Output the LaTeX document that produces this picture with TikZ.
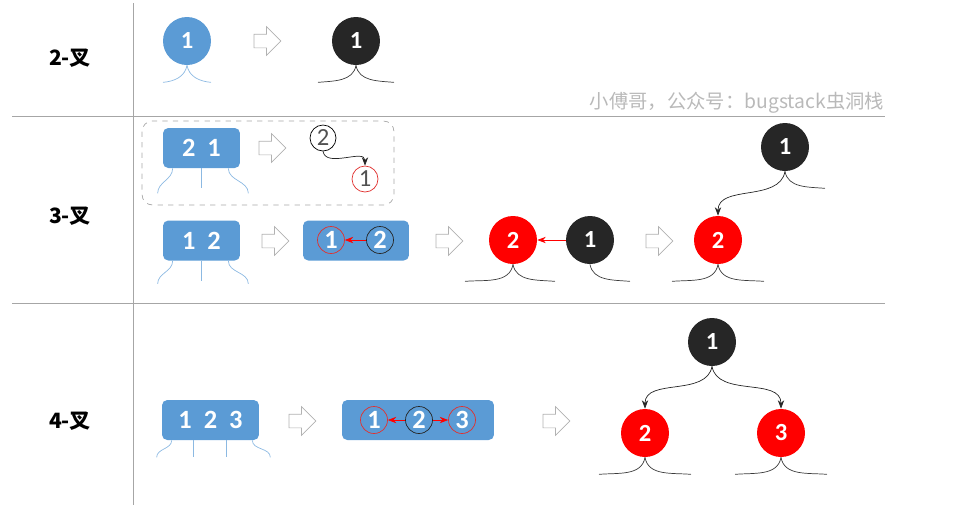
\documentclass[tikz,border=0pt]{standalone}
\usepackage{fontspec}
\setmainfont{Carlito}
\newfontfamily\cjk{Noto Sans CJK SC}
\usetikzlibrary{
  arrows.meta,
  shapes.arrows,
  positioning
}
\definecolor{nodeblue}{HTML}{5B9BD5}
\definecolor{nodeblack}{HTML}{262626}
\definecolor{nodered}{HTML}{FF0000}
\definecolor{ringred}{HTML}{E0312F}
\tikzset{>=Stealth}
\tikzset{
  rbnode/.style={circle, minimum size=0.96cm, inner sep=0pt, text=white,
    font=\fontsize{14}{14}\selectfont\bfseries},
  blacknode/.style={rbnode, fill=nodeblack},
  rednode/.style={rbnode, fill=nodered},
  bluenode/.style={rbnode, fill=nodeblue},
  keybox/.style={rectangle, rounded corners=3pt, fill=nodeblue, text=white,
    inner sep=0pt, minimum height=0.8cm, font=\fontsize{15}{15}\selectfont\bfseries},
  keyring/.style={circle, draw, minimum size=0.54cm, inner sep=0pt, text=white,
    font=\fontsize{15}{15}\selectfont\bfseries},
  plainring/.style={circle, draw, minimum size=0.52cm, inner sep=0pt,
    text=nodeblack!80, font=\fontsize{14}{14}\selectfont},
  hollow/.style={single arrow, draw=gray!60, fill=white, inner sep=0.13cm,
    minimum height=0.54cm, single arrow head extend=0.15cm},
  rowlabel/.style={font=\cjk\fontsize{12}{14}\selectfont\bfseries},
  grid/.style={draw=gray!70, thin},
  leg/.style={draw=nodeblack!90, thin},
  blueleg/.style={draw=nodeblue!70, thin}
}
\newcommand{\twoleaves}[3]{% node, style, spread
  \draw[#2] (#1.south) to[out=-100,in=5] ++(-#3,17);
  \draw[#2] (#1.south) to[out=-80,in=175] ++(#3,17);}

\begin{document}
\begin{tikzpicture}[x=0.02cm, y=-0.02cm]
	\useasboundingbox (0,0) rectangle (957,505);
	% table
	\draw[grid] (133,3) -- (133,505);
	\draw[grid] (12,116) -- (885,116);
	\draw[grid] (12,303) -- (885,303);
	\node[rowlabel] (l2) at (70,58) {2-叉};
	\node[rowlabel] (l3) at (70,216) {3-叉};
	\node[rowlabel] (l4) at (70,421) {4-叉};
	\node[font=\cjk\fontsize{11}{11}\selectfont, text=gray!55] (mark) at (737,103) {小傅哥，公众号：bugstack虫洞栈};

	% 2-node
	\node[bluenode] (a1) at (187,41) {1};
	\twoleaves{a1}{blueleg}{24}
	\node[hollow] (h1) at (264,41) {};
	\node[blacknode] (b1) at (356,41) {1};
	\twoleaves{b1}{leg}{38}

	% 3-node, case 2 1
	\draw[gray!70, dashed, rounded corners=6pt] (142,121) rectangle (394,205);
	\node[keybox, minimum width=1.54cm] (k21) at (201.5,148) {2\hspace{0.24cm}1};
	\draw[blueleg] ([xshift=0.2cm]k21.south west) to[out=-90,in=90] ++(-15,25);
	\draw[blueleg] (k21.south) -- ++(0,20);
	\draw[blueleg] ([xshift=-0.24cm]k21.south east) to[out=-90,in=90] ++(20,25);
	\node[hollow] (h2) at (269,148) {};
	\node[plainring] (p2) at (323,138) {2};
	\node[plainring, draw=ringred] (p1) at (365,179) {1};
	\draw[->, nodeblack] (p2.south) to[out=-80,in=90] (p1.north);

	% 3-node, case 1 2
	\node[keybox, minimum width=1.54cm] (k12) at (201.5,240.5) {1\hspace{0.24cm}2};
	\draw[blueleg] ([xshift=0.2cm]k12.south west) to[out=-90,in=90] ++(-15,23);
	\draw[blueleg] (k12.south) -- ++(0,20);
	\draw[blueleg] ([xshift=-0.24cm]k12.south east) to[out=-90,in=90] ++(20,23);
	\node[hollow] (h3) at (272,241) {};
	\node[keybox, minimum width=2.12cm] (w12) at (356,240.5) {};
	\node[keyring, draw=ringred] (w1) at (331,240) {1};
	\node[keyring, draw=nodeblack] (w2) at (380,240) {2};
	\draw[->, nodered] (w2) -- (w1);
	\node[hollow] (h4) at (446,241) {};
	\node[rednode] (c2) at (513,240) {2};
	\node[blacknode] (c1) at (590,240) {1};
	\draw[->, nodered] (c1) -- (c2);
	\draw[leg] (c2.south) to[out=-100,in=5] ++(-48,17);
	\draw[leg] (c2.south) to[out=-80,in=175] ++(42,17);
	\draw[leg] (c1.south) to[out=-80,in=175] ++(40,17);
	\node[hollow] (h5) at (656,241) {};
	\node[rednode] (d2) at (718,240) {2};
	\node[blacknode] (d1) at (785,147) {1};
	\twoleaves{d2}{leg}{46}
	\draw[leg] (d1.south) to[out=-80,in=175] ++(40,17);
	\draw[->, nodeblack] (d1.south) to[out=-100,in=90] (d2.north);

	% 4-node
	\node[keybox, minimum width=1.94cm] (k123) at (210.5,420) {1\hspace{0.24cm}2\hspace{0.24cm}3};
	\draw[blueleg] ([xshift=0.2cm]k123.south west) to[out=-90,in=90] ++(-15,17);
	\draw[blueleg] ([xshift=0.64cm]k123.south west) -- ++(0,17);
	\draw[blueleg] ([xshift=-0.66cm]k123.south east) -- ++(0,17);
	\draw[blueleg] ([xshift=-0.14cm]k123.south east) to[out=-90,in=90] ++(18,17);
	\node[hollow] (h6) at (299,421) {};
	\node[keybox, minimum width=3.04cm] (w123) at (418,420) {};
	\node[keyring, draw=ringred] (v1) at (374,420) {1};
	\node[keyring, draw=nodeblack] (v2) at (419,420) {2};
	\node[keyring, draw=ringred] (v3) at (462,420) {3};
	\draw[->, nodered] (v2) -- (v1);
	\draw[->, nodered] (v2) -- (v3);
	\node[hollow] (h7) at (553,421) {};
	\node[blacknode] (e1) at (712,342) {1};
	\node[rednode] (e2) at (645,433) {2};
	\node[rednode] (e3) at (781,433) {3};
	\draw[->, nodeblack] (e1.south) to[out=-100,in=90] (e2.north);
	\draw[->, nodeblack] (e1.south) to[out=-80,in=90] (e3.north);
	\twoleaves{e2}{leg}{46}
	\twoleaves{e3}{leg}{46}
\end{tikzpicture}
\end{document}
